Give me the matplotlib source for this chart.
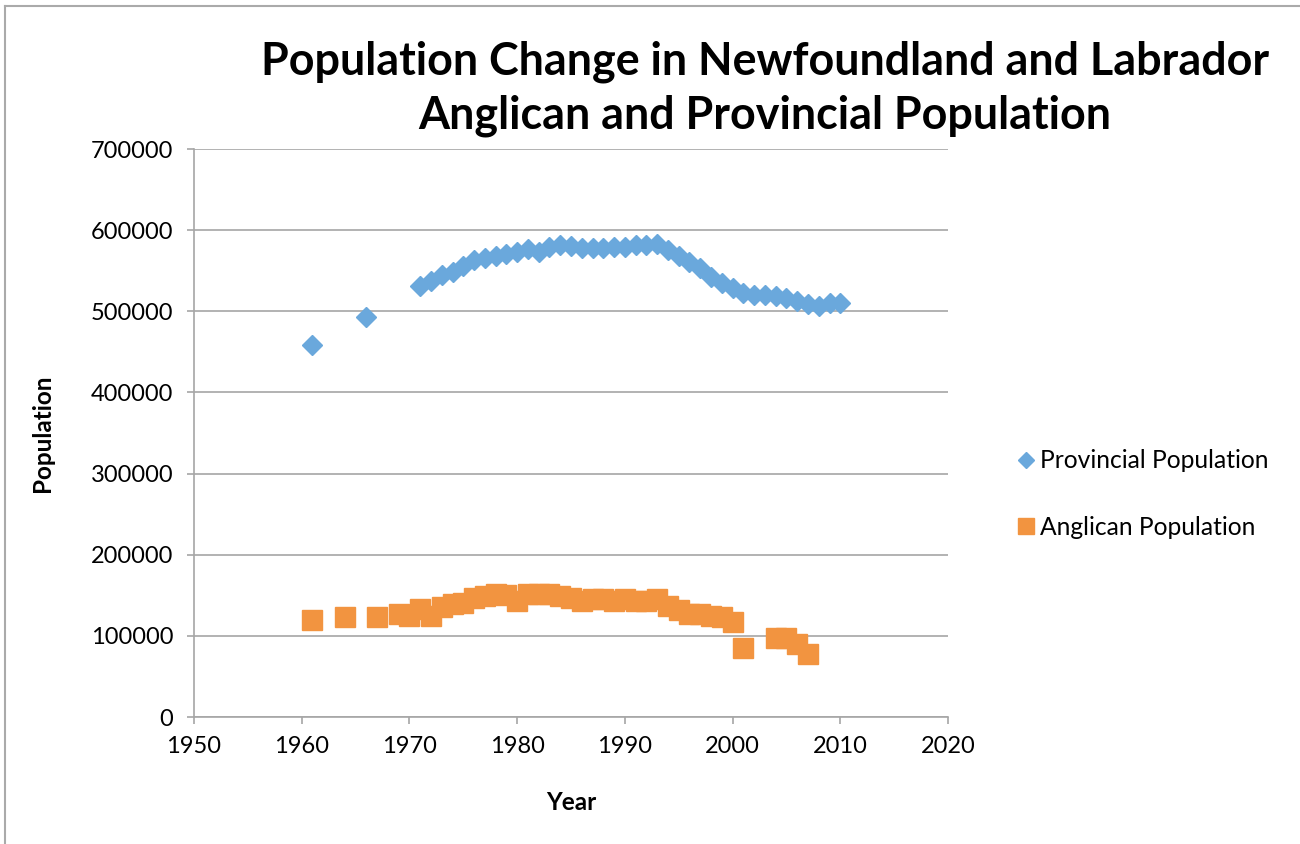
import matplotlib
matplotlib.use('Agg')
import matplotlib.pyplot as plt
from matplotlib.lines import Line2D

# Provincial population
prov_years = [1961, 1966] + list(range(1971, 2011))
prov_pop = [457900, 493400,
            531200, 537700, 544700, 548800, 555800, 563200, 565300, 568100, 570600, 573500,
            576400, 573500, 578900, 581700, 580500, 577600, 577600, 577600, 578900, 579600,
            581700, 581700, 582900, 575500, 568100, 561100, 553000, 542700, 534500, 528300,
            522200, 520100, 520100, 518900, 516000, 513100, 509000, 506900, 509800, 510700]

# Anglican population
ang_years = [1961, 1964, 1967] + list(range(1969, 2002)) + [2004, 2005, 2006, 2007]
ang_pop = [119500, 123600, 123600,
           126600, 124000, 132700, 124000, 136000, 139700, 140000, 147000, 148700, 151000,
           150000, 143000, 152000, 152000, 151000, 149500, 147000, 143000, 145800, 145000,
           142600, 145000, 143500, 143500, 145400, 136800, 132000, 127000, 127000, 124800,
           123200, 117000, 85000,
           97400, 97000, 90300, 78000]

blue = '#6aa8dc'
orange = '#f29440'
grid_gray = '#a6a6a6'

plt.rcParams['font.family'] = ['Lato', 'DejaVu Sans']

fig = plt.figure(figsize=(13, 8.44), dpi=100)
ax = fig.add_axes([194 / 1300, 1 - 717 / 844, (948 - 194) / 1300, (717 - 149) / 844])

ax.plot(prov_years, prov_pop, linestyle='none', marker='D', markersize=10.2,
        color=blue, markeredgecolor=blue, label='Provincial Population')
ax.plot(ang_years, ang_pop, linestyle='none', marker='s', markersize=14.5,
        color=orange, markeredgecolor=orange, label='Anglican Population')

ax.set_xlim(1950, 2020)
ax.set_ylim(0, 700000)
ax.set_xticks(range(1950, 2021, 10))
ax.set_yticks(range(0, 700001, 100000))
ax.yaxis.grid(True, color=grid_gray, linewidth=1.2)
ax.set_axisbelow(True)
for side in ['top', 'right']:
    ax.spines[side].set_visible(False)
for side in ['left', 'bottom']:
    ax.spines[side].set_color(grid_gray)
    ax.spines[side].set_linewidth(1.2)
ax.tick_params(axis='both', colors=grid_gray, labelcolor='black', labelsize=17,
               length=5, width=1.2)
ax.tick_params(axis='y', pad=10)
ax.tick_params(axis='x', pad=9)

ax.set_xlabel('Year', fontsize=17.5, fontweight='bold', labelpad=24)
ax.set_ylabel('Population', fontsize=17.5, fontweight='bold', labelpad=26)

fig.text(765 / 1300, 1 - 62 / 844, 'Population Change in Newfoundland and Labrador',
         ha='center', va='center', fontsize=32.3, fontweight='bold')
fig.text(765 / 1300, 1 - 116 / 844, 'Anglican and Provincial Population',
         ha='center', va='center', fontsize=32.3, fontweight='bold')

ax.legend(loc='center left', bbox_to_anchor=(997 / 1300, 1 - 494 / 844),
          bbox_transform=fig.transFigure, frameon=False, fontsize=17.7,
          markerscale=0.75, handlelength=0.55, handletextpad=0.3, labelspacing=1.75)

# thin frame around the chart area
fig.add_artist(Line2D([5 / 1300, 5 / 1300], [0, 1 - 6 / 844], color='#aaaaaa', linewidth=1.5))
fig.add_artist(Line2D([5 / 1300, 1], [1 - 6 / 844, 1 - 6 / 844], color='#aaaaaa', linewidth=1.5))

plt.savefig('out.png', dpi=100)
